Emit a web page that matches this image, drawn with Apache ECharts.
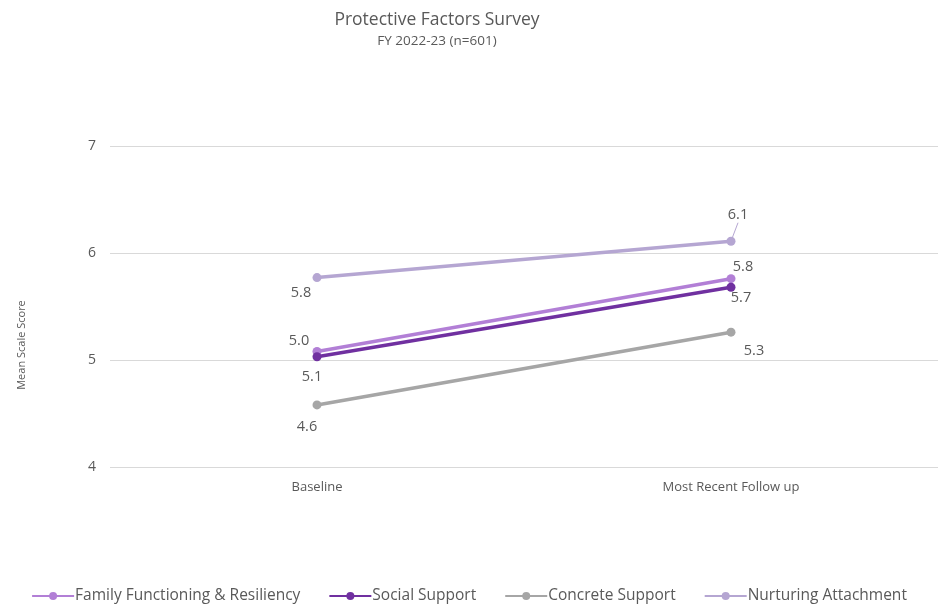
<!DOCTYPE html>
<html>
<head>
<meta charset="utf-8">
<script src="https://cdn.jsdelivr.net/npm/echarts@6/dist/echarts.min.js"></script>
<style>
  html, body { margin: 0; padding: 0; background: #fff; }
  #chart { width: 938px; height: 605px; }
</style>
</head>
<body>
<div id="chart"></div>
<script>
// Survey time points
const categories = ['Baseline', 'Most Recent Follow up'];

// Mean scale scores per protective factor
const familyFunctioning = [5.08, 5.76];
const socialSupport = [5.03, 5.68];
const concreteSupport = [4.58, 5.26];
const nurturingAttachment = [5.77, 6.11];

// Y axis ticks
const yTicks = [4, 5, 6, 7];

const FONT = '"Open Sans", "Liberation Sans", sans-serif';
const TEXT = '#595959';

// Label placement for each point (offset from the marker centre)
function pts(values, offsets, extra) {
  return values.map((v, i) => {
    const item = {
      value: v,
      label: { offset: offsets[i] }
    };
    if (extra && extra[i]) Object.assign(item, extra[i]);
    return item;
  });
}

function lineSeries(name, color, data) {
  return {
    name: name,
    type: 'line',
    data: data,
    symbol: 'circle',
    symbolSize: 9,
    lineStyle: { width: 3.5, color: color },
    itemStyle: { color: color },
    label: {
      show: true,
      position: 'inside',
      align: 'center',
      verticalAlign: 'middle',
      color: TEXT,
      fontFamily: FONT,
      fontSize: 14.5,
      formatter: p => p.value.toFixed(1)
    },
    emphasis: { disabled: true },
    animation: false
  };
}

const chart = echarts.init(document.getElementById('chart'), null, { renderer: 'canvas' });

chart.setOption({
  backgroundColor: '#ffffff',
  title: {
    text: 'Protective Factors Survey',
    subtext: 'FY 2022-23 (n=601)',
    left: 432,
    top: 6,
    textAlign: 'center',
    itemGap: 5,
    textStyle: { fontFamily: FONT, fontSize: 17.5, fontWeight: 'normal', color: TEXT },
    subtextStyle: { fontFamily: FONT, fontSize: 13.5, color: TEXT }
  },
  grid: { left: 110, width: 832, top: 146, bottom: 138, containLabel: false },
  xAxis: {
    type: 'category',
    data: categories,
    boundaryGap: true,
    axisLine: { show: false },
    axisTick: { show: false },
    axisLabel: { color: TEXT, fontFamily: FONT, fontSize: 13, margin: 14 }
  },
  yAxis: {
    type: 'value',
    min: yTicks[0],
    max: yTicks[yTicks.length - 1],
    interval: 1,
    axisLine: { show: false },
    axisTick: { show: false },
    axisLabel: { color: TEXT, fontFamily: FONT, fontSize: 14, margin: 14 },
    splitLine: { lineStyle: { color: '#d9d9d9', width: 1 } }
  },
  graphic: [{
    type: 'text',
    x: 22,
    y: 345,
    rotation: Math.PI / 2,
    style: {
      text: 'Mean Scale Score',
      fill: TEXT,
      font: '11px ' + FONT,
      align: 'center',
      verticalAlign: 'middle'
    }
  }],
  legend: {
    bottom: -4,
    left: 'center',
    itemWidth: 42,
    itemHeight: 10,
    itemGap: 28,
    textStyle: { color: TEXT, fontFamily: FONT, fontSize: 15.5, padding: [0, 0, 0, -4] },
    data: ['Family Functioning & Resiliency', 'Social Support', 'Concrete Support', 'Nurturing Attachment']
  },
  series: [
    lineSeries('Family Functioning & Resiliency', '#b27fd6',
      pts(familyFunctioning, [[-5, 25], [12, -12]])),
    lineSeries('Social Support', '#7030a0',
      pts(socialSupport, [[-18, -16], [10, 11]])),
    lineSeries('Concrete Support', '#a6a6a6',
      pts(concreteSupport, [[-10, 22], [23, 19]])),
    lineSeries('Nurturing Attachment', '#b5a6d2',
      pts(nurturingAttachment, [[-16, 15], [7, -26]],
        [null, { labelLine: { show: true, lineStyle: { color: '#b5a6d2', width: 1 } } }]))
  ]
});
</script>
</body>
</html>
